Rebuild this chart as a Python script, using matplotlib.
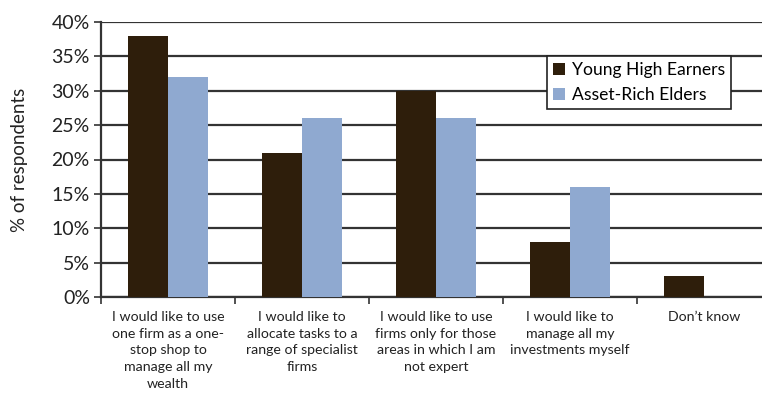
import numpy as np
import matplotlib.pyplot as plt
from matplotlib.ticker import PercentFormatter

plt.rcParams['font.family'] = ['Lato', 'DejaVu Sans']

# Survey answers and the two respondent groups
categories = [
    "I would like to use\none firm as a one-\nstop shop to\nmanage all my\nwealth",
    "I would like to\nallocate tasks to a\nrange of specialist\nfirms",
    "I would like to use\nfirms only for those\nareas in which I am\nnot expert",
    "I would like to\nmanage all my\ninvestments myself",
    "Don\u2019t know",
]
young_high_earners = [38, 21, 30, 8, 3]
asset_rich_elders = [32, 26, 26, 16, 0]

dark = '#2e1e0b'
blue = '#8fa9d0'
grid_col = '#333333'
text_col = '#222222'

fig = plt.figure(figsize=(7.62, 3.96), dpi=100)
ax = fig.add_axes([101 / 762, 1 - 297 / 396, 670 / 762, 275 / 396])

x = np.arange(len(categories))
w = 0.295
ax.bar(x - w / 2, young_high_earners, w, color=dark, label='Young High Earners', zorder=3)
ax.bar(x + w / 2, asset_rich_elders, w, color=blue, label='Asset-Rich Elders', zorder=3)

ax.set_xlim(-0.5, len(categories) - 0.5)
ax.set_ylim(0, 40)
ax.set_yticks(np.arange(0, 41, 5))
ax.yaxis.set_major_formatter(PercentFormatter(decimals=0))
ax.yaxis.grid(True, color=grid_col, linewidth=1.6, zorder=0)

# category names centred under each group, tick marks between groups
ax.set_xticks(x)
ax.set_xticklabels(categories, fontsize=10.2, color=text_col, linespacing=1.48)
ax.tick_params(axis='x', which='major', length=0, pad=10)
ax.set_xticks(np.arange(-0.5, len(categories), 1), minor=True)
ax.tick_params(axis='x', which='minor', length=5, width=1.2, color=grid_col)
ax.tick_params(axis='y', length=5, width=1.2, color=grid_col, labelsize=14,
               labelcolor=text_col, pad=3)

for side in ['top', 'right']:
    ax.spines[side].set_visible(False)
for side in ['left', 'bottom']:
    ax.spines[side].set_color(grid_col)
    ax.spines[side].set_linewidth(1.6)

ax.set_ylabel('% of respondents', fontsize=13.5, color=text_col)
ax.yaxis.set_label_coords(-73 / 670, 0.5)

leg = ax.legend(loc='upper left', bbox_to_anchor=((547 - 101) / 670, (297 - 56) / 275),
                fontsize=12.6, frameon=True, fancybox=False, framealpha=1,
                edgecolor=text_col, handlelength=0.7, handleheight=0.7,
                handletextpad=0.35, borderpad=0.35, labelspacing=0.5,
                borderaxespad=0)
leg.get_frame().set_linewidth(1.2)
leg.set_zorder(5)

fig.savefig('out.png', dpi=100)
